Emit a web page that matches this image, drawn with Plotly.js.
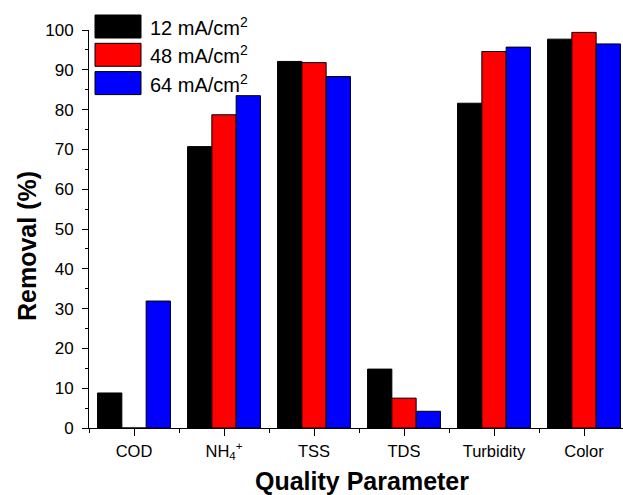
<!DOCTYPE html>
<html>
<head>
<meta charset="utf-8">
<script src="https://cdn.plot.ly/plotly-3.0.1.min.js"></script>
<style>
  html, body { margin: 0; padding: 0; overflow: hidden; background: #fff; }
  #chart { width: 630px; height: 495px; }
</style>
</head>
<body>
<div id="chart"></div>
<script>
// ---- data ----
const categories = ['COD', 'NH<sub>4</sub><sup>+</sup>', 'TSS', 'TDS', 'Turbidity', 'Color'];
const seriesNames = ['12 mA/cm<sup>2</sup>', '48 mA/cm<sup>2</sup>', '64 mA/cm<sup>2</sup>'];
const removal12 = [8.8, 70.7, 92.1, 14.8, 81.6, 97.7];
const removal48 = [0, 78.7, 91.8, 7.5, 94.6, 99.4];
const removal64 = [31.9, 83.5, 88.3, 4.2, 95.7, 96.5];
const yTickVals = [0, 10, 20, 30, 40, 50, 60, 70, 80, 90, 100];

// ---- styling / layout ----
const colors = ['#000000', '#ff0000', '#0000ff'];
const FONT = 'Arial, "Liberation Sans", sans-serif';
const W = 630, H = 495;
const L = 89, R = 629, T = 30, B = 428;
const px2x = p => (p - L) / (R - L);
const py2y = p => (B - p) / (B - T);

const xIdx = categories.map((c, i) => i);
const seriesValues = [removal12, removal48, removal64];

const traces = seriesValues.map((vals, k) => ({
  type: 'bar',
  name: seriesNames[k],
  x: xIdx,
  y: vals,
  marker: { color: colors[k], line: { color: '#000', width: 1 } },
  hoverinfo: 'x+y'
}));

// custom legend (large swatches like the original)
const legTop = 15, legH = 23, legStep = 28.3, legX0 = 95, legX1 = 141, legTextX = 148;
const shapes = [];
const annotations = [];
seriesNames.forEach((name, k) => {
  const y0 = legTop + k * legStep;
  shapes.push({
    type: 'rect', xref: 'paper', yref: 'paper',
    x0: px2x(legX0), x1: px2x(legX1),
    y0: py2y(y0), y1: py2y(y0 + legH),
    fillcolor: colors[k], line: { color: '#000', width: 1 }
  });
  annotations.push({
    xref: 'paper', yref: 'paper', showarrow: false,
    x: px2x(legTextX), y: py2y(y0 + legH / 2),
    xanchor: 'left', yanchor: 'middle',
    text: name, font: { family: FONT, size: 20, color: '#000' }
  });
});

// axis titles
annotations.push({
  xref: 'paper', yref: 'paper', showarrow: false,
  x: px2x(362), y: py2y(481), xanchor: 'center', yanchor: 'middle',
  text: '<b>Quality Parameter</b>', font: { family: FONT, size: 25, color: '#000' }
});
annotations.push({
  xref: 'paper', yref: 'paper', showarrow: false,
  x: px2x(27), y: py2y(246), xanchor: 'center', yanchor: 'middle',
  textangle: -90,
  text: '<b>Removal (%)</b>', font: { family: FONT, size: 25, color: '#000' }
});

const layout = {
  width: W, height: H,
  margin: { l: L, r: W - R, t: T, b: H - B, pad: 0 },
  paper_bgcolor: '#fff', plot_bgcolor: '#fff',
  showlegend: false,
  barmode: 'group', bargap: 0.19, bargroupgap: 0,
  font: { family: FONT, color: '#000' },
  xaxis: {
    range: [-0.5, 5.5], fixedrange: true,
    tickmode: 'array', tickvals: xIdx, ticktext: categories,
    ticks: 'outside', ticklen: 7, tickwidth: 1, tickcolor: '#000',
    minor: { tick0: 0.5, dtick: 1, ticks: 'outside', ticklen: 4, tickwidth: 1, tickcolor: '#000', showgrid: false },
    showline: true, linecolor: '#000', linewidth: 1,
    showgrid: false, zeroline: false,
    tickfont: { family: FONT, size: 16.5, color: '#000' },
    ticklabelstandoff: 1
  },
  yaxis: {
    range: [0, 100], fixedrange: true,
    tickmode: 'array', tickvals: yTickVals,
    ticks: 'outside', ticklen: 6, tickwidth: 1, tickcolor: '#000',
    minor: { dtick: 5, ticks: 'outside', ticklen: 3, tickwidth: 1, tickcolor: '#000', showgrid: false },
    showline: true, linecolor: '#000', linewidth: 1,
    showgrid: false, zeroline: false,
    tickfont: { family: FONT, size: 17, color: '#000' },
    ticklabelstandoff: 5
  },
  shapes: shapes,
  annotations: annotations
};

Plotly.newPlot('chart', traces, layout, { displayModeBar: false, staticPlot: true });
</script>
</body>
</html>
